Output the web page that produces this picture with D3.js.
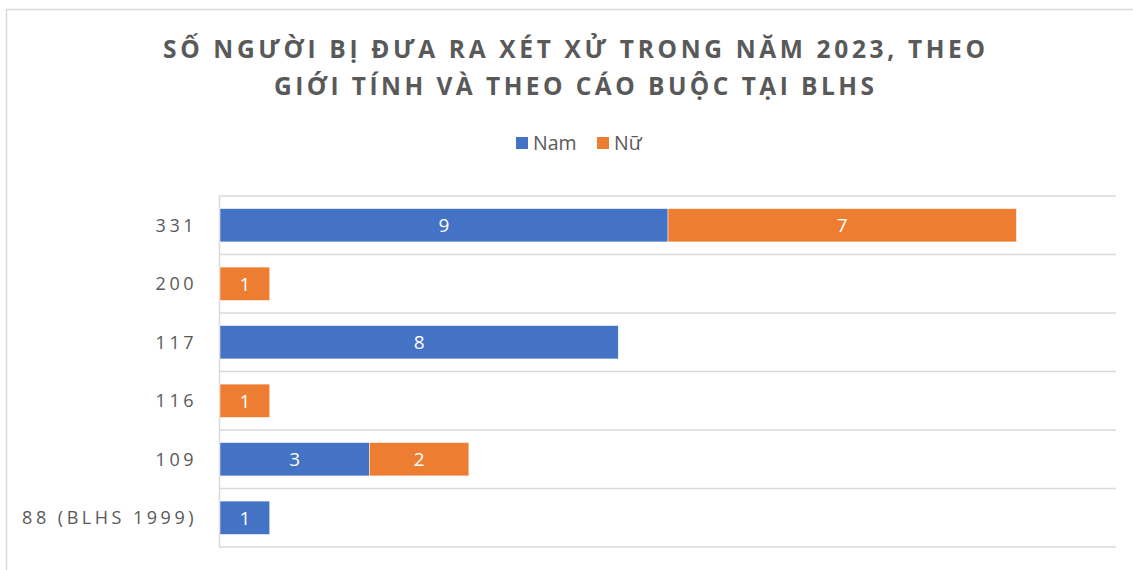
<!DOCTYPE html>
<html>
<head>
<meta charset="utf-8">
<script src="https://cdn.jsdelivr.net/npm/d3@7"></script>
<style>
  body { margin: 0; background: #fff; }
  text { font-family: "Open Sans", "Noto Sans", "DejaVu Sans", sans-serif; fill: #595959; }
</style>
</head>
<body>
<div id="chart"></div>
<script>
// data
const categories = ['331', '200', '117', '116', '109', '88 (BLHS 1999)'];
const namValues = [9, 0, 8, 0, 3, 1];
const nuValues = [7, 1, 0, 1, 2, 0];
const seriesNames = ['Nam', 'Nữ'];
const seriesColors = ['#4472C4', '#ED7D31'];
const titleLines = ['SỐ NGƯỜI BỊ ĐƯA RA XÉT XỬ TRONG NĂM 2023, THEO', 'GIỚI TÍNH VÀ THEO CÁO BUỘC TẠI BLHS'];
const xMax = 18;

let W = 1133, H = 570;
let svg = d3.select('#chart').append('svg')
    .attr('width', W)
    .attr('height', H);

// chart border (cropped at right and bottom)
svg.append('rect')
    .attr('x', 6.5)
    .attr('y', 9.5)
    .attr('width', W + 20)
    .attr('height', H + 20)
    .attr('fill', 'none')
    .attr('stroke', '#d9d9d9')
    .attr('stroke-width', 1.5);

// title
let titleWidths = [822, 600];
svg.selectAll('.title')
    .data(titleLines)
    .enter()
    .append('text')
    .attr('class', 'title')
    .text(d => d)
    .attr('x', 574)
    .attr('y', (d, i) => 58 + i * 37)
    .attr('text-anchor', 'middle')
    .attr('textLength', (d, i) => titleWidths[i])
    .attr('lengthAdjust', 'spacing')
    .style('font-size', '24.5px')
    .style('font-weight', 'bold');

// legend
let leg = svg.append('g');
let legX = [516, 597];
seriesNames.forEach((name, i) => {
    leg.append('rect')
        .attr('x', legX[i])
        .attr('y', 137)
        .attr('width', 12)
        .attr('height', 12)
        .attr('fill', seriesColors[i]);
    leg.append('text')
        .text(name)
        .attr('x', legX[i] + 17)
        .attr('y', 150)
        .style('font-size', '19.5px');
});

// scales
let x = d3.scaleLinear()
    .domain([0, xMax])
    .range([220, 1116]);

let y = d3.scaleBand()
    .domain(categories)
    .range([196, 547])
    .paddingInner(0.43)
    .paddingOuter(0.215);

// band separators
let bandEdges = d3.range(categories.length + 1).map(i => 196 + i * (547 - 196) / categories.length);
svg.selectAll('.grid')
    .data(bandEdges)
    .enter()
    .append('line')
    .attr('x1', 219)
    .attr('x2', 1116)
    .attr('y1', d => d)
    .attr('y2', d => d)
    .attr('stroke', '#d9d9d9')
    .attr('stroke-width', 1.5);

svg.append('line')
    .attr('x1', 219.5)
    .attr('x2', 219.5)
    .attr('y1', 196)
    .attr('y2', 547)
    .attr('stroke', '#d9d9d9')
    .attr('stroke-width', 1.5);

// category labels
svg.selectAll('.cat-label')
    .data(categories)
    .enter()
    .append('text')
    .attr('class', 'cat-label')
    .text(d => d)
    .attr('x', 197)
    .attr('y', d => y(d) + y.bandwidth() / 2 + 6.5)
    .attr('text-anchor', 'end')
    .style('font-size', '18px')
    .style('letter-spacing', '3.5px');

// stacked bars
let rows = categories.map((c, i) => ({ cat: c, Nam: namValues[i], 'Nữ': nuValues[i] }));
let stacked = d3.stack().keys(seriesNames)(rows);

let groups = svg.selectAll('.series')
    .data(stacked)
    .enter()
    .append('g')
    .attr('class', 'series')
    .attr('fill', (d, i) => seriesColors[i]);

groups.selectAll('rect')
    .data(d => d.filter(p => p[1] - p[0] > 0))
    .enter()
    .append('rect')
    .attr('x', d => x(d[0]))
    .attr('y', d => y(d.data.cat))
    .attr('width', d => x(d[1]) - x(d[0]))
    .attr('height', y.bandwidth())
    .attr('stroke', '#fff')
    .attr('stroke-width', 0.5);

groups.selectAll('.val')
    .data(d => d.filter(p => p[1] - p[0] > 0))
    .enter()
    .append('text')
    .attr('class', 'val')
    .text(d => d[1] - d[0])
    .attr('x', d => (x(d[0]) + x(d[1])) / 2)
    .attr('y', d => y(d.data.cat) + y.bandwidth() / 2 + 7)
    .attr('text-anchor', 'middle')
    .style('fill', '#fff')
    .style('font-size', '19px');
</script>
</body>
</html>
